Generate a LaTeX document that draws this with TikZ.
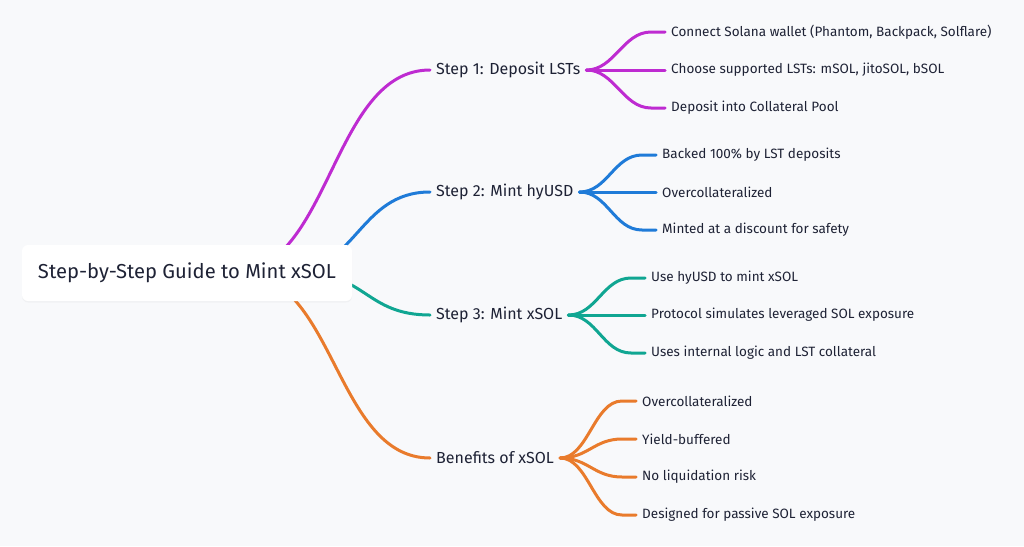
\documentclass[tikz,border=0pt]{standalone}
\usepackage{fontspec}
\setmainfont{Fira Sans}
\usetikzlibrary{shadows}
\definecolor{bgcol}{HTML}{F8F9FB}
\definecolor{inkcol}{HTML}{1E2235}
\definecolor{violetline}{HTML}{BE2BD1}
\definecolor{blueline}{HTML}{1F7BD8}
\definecolor{tealline}{HTML}{10A692}
\definecolor{orangeline}{HTML}{E97B2C}
\tikzset{
  rootbox/.style={fill=white, rounded corners=6pt, minimum width=330pt, minimum height=56pt,
    text=inkcol, font=\fontsize{20.2}{24}\selectfont, drop shadow={opacity=0.06, shadow xshift=0pt, shadow yshift=-1.5pt}},
  stepnode/.style={anchor=west, inner xsep=6pt, text=inkcol, font=\fontsize{16}{19}\selectfont},
  leafnode/.style={anchor=west, inner xsep=6pt, text=inkcol, font=\fontsize{13.5}{16}\selectfont},
  branch/.style={line width=3pt, line cap=round}
}
\begin{document}
\begin{tikzpicture}[x=1pt, y=-1pt]
\useasboundingbox[fill=bgcol] (0,0) rectangle (1024,546);
% steps
\node[stepnode] (s1) at (430,70) {Step 1: Deposit LSTs};
\node[stepnode] (s2) at (430,192) {Step 2: Mint hyUSD};
\node[stepnode] (s3) at (430,315) {Step 3: Mint xSOL};
\node[stepnode] (s4) at (430,458) {Benefits of xSOL};
% leaves of step 1
\node[leafnode] (a1) at (665,32) {Connect Solana wallet (Phantom, Backpack, Solflare)};
\node[leafnode] (a2) at (665,70) {Choose supported LSTs: mSOL, jitoSOL, bSOL};
\node[leafnode] (a3) at (665,108) {Deposit into Collateral Pool};
% leaves of step 2
\node[leafnode] (b1) at (656,155) {Backed 100\% by LST deposits};
\node[leafnode] (b2) at (656,192) {Overcollateralized};
\node[leafnode] (b3) at (656,230) {Minted at a discount for safety};
% leaves of step 3
\node[leafnode] (c1) at (645,278) {Use hyUSD to mint xSOL};
\node[leafnode] (c2) at (645,315) {Protocol simulates leveraged SOL exposure};
\node[leafnode] (c3) at (645,353) {Uses internal logic and LST collateral};
% benefits
\node[leafnode] (d1) at (636,401) {Overcollateralized};
\node[leafnode] (d2) at (636,439) {Yield-buffered};
\node[leafnode] (d3) at (636,477) {No liquidation risk};
\node[leafnode] (d4) at (636,515) {Designed for passive SOL exposure};
% main branches, starting behind the root box
\coordinate (h1) at (232,273);
\coordinate (h2) at (285,273);
\coordinate (h3) at (302,273);
\coordinate (h4) at (240,273);
\draw[branch, violetline] (h1) .. controls +(99,0) and +(-99,0) .. (s1.west);
\draw[branch, blueline] (h2) .. controls +(72,0) and +(-72,0) .. (s2.west);
\draw[branch, tealline] (h3) .. controls +(64,0) and +(-64,0) .. (s3.west);
\draw[branch, orangeline] (h4) .. controls +(95,0) and +(-95,0) .. (s4.west);
% fans to the leaves
\foreach \leaf in {a1,a2,a3}
  \draw[branch, violetline] (s1.east) .. controls +(28,0) and +(-28,0) .. ([xshift=-14pt]\leaf.west) -- (\leaf.west);
\foreach \leaf in {b1,b2,b3}
  \draw[branch, blueline] (s2.east) .. controls +(28,0) and +(-28,0) .. ([xshift=-14pt]\leaf.west) -- (\leaf.west);
\foreach \leaf in {c1,c2,c3}
  \draw[branch, tealline] (s3.east) .. controls +(28,0) and +(-28,0) .. ([xshift=-14pt]\leaf.west) -- (\leaf.west);
\foreach \leaf in {d1,d2,d3,d4}
  \draw[branch, orangeline] (s4.east) .. controls +(28,0) and +(-28,0) .. ([xshift=-14pt]\leaf.west) -- (\leaf.west);
% root on top
\node[rootbox] (root) at (187,273) {Step-by-Step Guide to Mint xSOL};
\end{tikzpicture}
\end{document}
